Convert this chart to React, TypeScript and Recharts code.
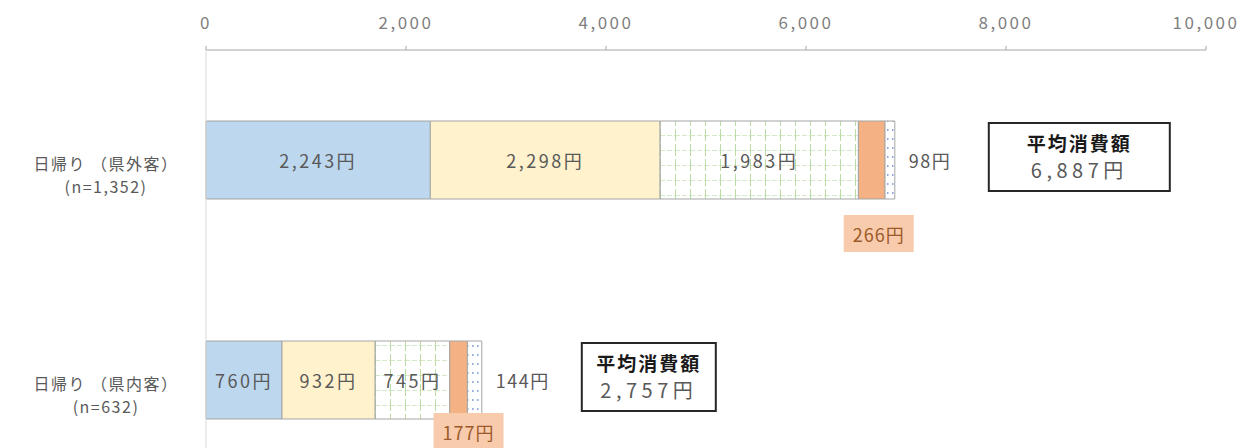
import { Bar, BarChart, LabelList, XAxis, YAxis } from 'recharts'

const categories = ['日帰り （県外客）', '日帰り （県内客）']
const sampleSizes = ['(n=1,352)', '(n=632)']
const valuesA = [2243, 760]
const valuesB = [2298, 932]
const valuesC = [1983, 745]
const valuesD = [266, 177]
const valuesE = [98, 144]
const averageTotals = ['6,887円', '2,757円']
const xTicks = [0, 2000, 4000, 6000, 8000, 10000]

const data = categories.map((name, i) => ({
  name,
  a: valuesA[i],
  b: valuesB[i],
  c: valuesC[i],
  d: valuesD[i],
  e: valuesE[i],
}))

const FONT = '"Noto Sans CJK JP", "Noto Sans", sans-serif'
const TEXT = '#595959'
const EDGE = '#a5a5a5'

function yen(v: number): string {
  return `${v.toLocaleString('en-US')}円`
}

function CategoryTick(props: any) {
  const { x, y, payload, index } = props
  const cx = x - 100
  return (
    <g>
      <text x={cx} y={y + 3} textAnchor="middle" dominantBaseline="central" fill={TEXT} fontSize={16} letterSpacing={1.5}>
        {payload.value}
      </text>
      <text x={cx} y={y + 26} textAnchor="middle" dominantBaseline="central" fill={TEXT} fontSize={16} letterSpacing={1.5}>
        {sampleSizes[index]}
      </text>
    </g>
  )
}

function insideLabel(props: any) {
  const { x, y, width, height, value } = props
  return (
    <text
      x={x + width / 2}
      y={y + height / 2}
      textAnchor="middle"
      dominantBaseline="central"
      fill={TEXT}
      fontSize={18}
      letterSpacing={2.5}
    >
      {yen(Number(value))}
    </text>
  )
}

// small orange segment: tag below the bar
function belowLabel(props: any) {
  const { x, y, width, height, value, index } = props
  const cx = x + width / 2 + (index === 0 ? 7 : 10)
  const top = index === 0 ? y + height + 16 : y + height - 6
  return (
    <g>
      <rect x={cx - 35} y={top} width={70} height={37} fill="#f8cbad" />
      <text x={cx} y={top + 19} textAnchor="middle" dominantBaseline="central" fill="#9c5a2a" fontSize={18} letterSpacing={1}>
        {yen(Number(value))}
      </text>
    </g>
  )
}

// last segment: value to the right, then the average box
function endLabel(props: any) {
  const { x, y, width, height, value, index } = props
  const end = x + width
  const boxX = end + (index === 0 ? 94 : 100)
  const boxW = index === 0 ? 181 : 134
  const boxY = y + 2
  return (
    <g>
      <text x={end + 14} y={y + height / 2} dominantBaseline="central" fill={TEXT} fontSize={18} letterSpacing={1.5}>
        {yen(Number(value))}
      </text>
      <rect x={boxX} y={boxY} width={boxW} height={68} fill="#ffffff" stroke="#262626" strokeWidth={2} />
      <text
        x={boxX + boxW / 2}
        y={boxY + 19}
        textAnchor="middle"
        dominantBaseline="central"
        fill="#1a1a1a"
        fontSize={19}
        fontWeight="bold"
        letterSpacing={2}
      >
        平均消費額
      </text>
      <text
        x={boxX + boxW / 2}
        y={boxY + 46}
        textAnchor="middle"
        dominantBaseline="central"
        fill={TEXT}
        fontSize={20}
        letterSpacing={4.5}
      >
        {averageTotals[index]}
      </text>
    </g>
  )
}

export default function App() {
  return (
    <div
      style={{
        position: 'absolute',
        left: 0,
        top: 0,
        width: 1244,
        height: 448,
        overflow: 'hidden',
        background: '#ffffff',
        fontFamily: FONT,
      }}
    >
      <BarChart
        width={1244}
        height={490}
        data={data}
        layout="vertical"
        margin={{ top: 0, right: 38, bottom: 0, left: 0 }}
        barSize={78}
      >
        <defs>
          <pattern id="greenGrid" width={15} height={15} patternUnits="userSpaceOnUse">
            <rect width={15} height={15} fill="#ffffff" />
            <path d="M0 0.5H15" stroke="#d5e8c8" strokeDasharray="5 2" />
            <path d="M0.5 0V15" stroke="#bcdca6" strokeDasharray="6 3" />
          </pattern>
          <pattern id="blueDots" width={5} height={9} patternUnits="userSpaceOnUse">
            <rect width={5} height={9} fill="#ffffff" />
            <rect x={2} y={3} width={1.5} height={2} fill="#8faadc" />
          </pattern>
        </defs>
        <XAxis
          type="number"
          orientation="top"
          domain={[0, 10000]}
          ticks={xTicks}
          height={50}
          tickFormatter={(v: number) => v.toLocaleString('en-US')}
          axisLine={{ stroke: '#a6a6a6' }}
          tickLine={{ stroke: '#a6a6a6' }}
          tickSize={4}
          tickMargin={17}
          tick={{ fill: '#7f7f7f', fontSize: 17, letterSpacing: 2.5 }}
        />
        <YAxis
          type="category"
          dataKey="name"
          width={206}
          axisLine={{ stroke: '#d9d9d9' }}
          tickLine={false}
          tickSize={0}
          tickMargin={0}
          tick={<CategoryTick />}
        />
        <Bar dataKey="a" stackId="s" fill="#bdd7ee" stroke={EDGE} isAnimationActive={false}>
          <LabelList dataKey="a" content={insideLabel} />
        </Bar>
        <Bar dataKey="b" stackId="s" fill="#fff2cc" stroke={EDGE} isAnimationActive={false}>
          <LabelList dataKey="b" content={insideLabel} />
        </Bar>
        <Bar dataKey="c" stackId="s" fill="url(#greenGrid)" stroke={EDGE} isAnimationActive={false}>
          <LabelList dataKey="c" content={insideLabel} />
        </Bar>
        <Bar dataKey="d" stackId="s" fill="#f4b183" stroke={EDGE} isAnimationActive={false}>
          <LabelList dataKey="d" content={belowLabel} />
        </Bar>
        <Bar dataKey="e" stackId="s" fill="url(#blueDots)" stroke={EDGE} isAnimationActive={false}>
          <LabelList dataKey="e" content={endLabel} />
        </Bar>
      </BarChart>
    </div>
  )
}
